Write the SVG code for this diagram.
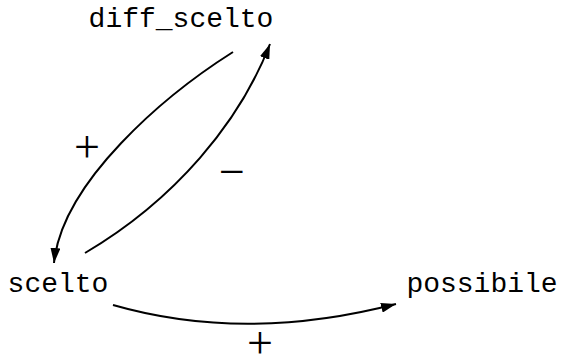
<svg xmlns="http://www.w3.org/2000/svg" width="562" height="356" viewBox="0 0 562 356">
<style>
.node text{font-family:"Liberation Mono","Courier New",monospace;font-size:28px;fill:#000;text-anchor:middle}
.edge{fill:none;stroke:#000;stroke-width:2}
.lbl{font-family:"Liberation Serif","Times New Roman",serif;font-size:46px;fill:#000;text-anchor:middle}
</style>
<defs>
<marker id="arr" markerUnits="userSpaceOnUse" markerWidth="16" markerHeight="10" refX="15" refY="5" orient="auto">
<path d="M0,0 L15,5 L0,10 z" fill="#000"/>
</marker>
</defs>
<g id="diff_scelto" class="node"><text x="181" y="27">diff_scelto</text></g>
<g id="scelto" class="node"><text x="58" y="292">scelto</text></g>
<g id="possibile" class="node"><text x="482" y="292">possibile</text></g>
<g id="connectors">
<path class="edge" d="M233,52 C165,95 62,182 54,263" marker-end="url(#arr)"/>
<path class="edge" d="M85,253 C175,200 240,122 270,44" marker-end="url(#arr)"/>
<path class="edge" d="M113,305 Q245,343 396,304" marker-end="url(#arr)"/>
<text class="lbl" x="87" y="162">+</text>
<text class="lbl" x="232" y="187">−</text>
<text class="lbl" x="260" y="358">+</text>
</g>
</svg>
